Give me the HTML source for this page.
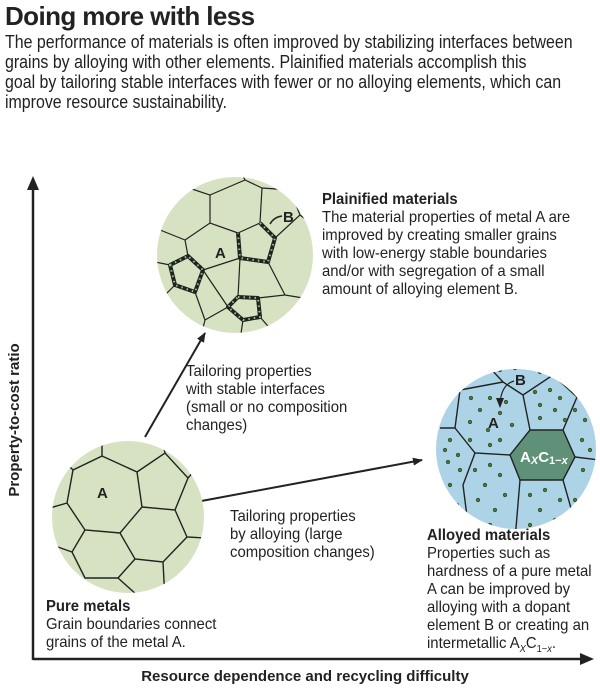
<!DOCTYPE html>
<html><head><meta charset="utf-8"><style>
body{margin:0;background:#fff;}
.w{position:relative;width:600px;height:689px;overflow:hidden;font-family:"Liberation Sans",sans-serif;color:#222;}
.t{position:absolute;white-space:nowrap;transform-origin:0 0;}
h1{position:absolute;left:5px;top:1px;margin:0;font-size:26px;font-weight:bold;letter-spacing:-0.6px;}
.intro{left:5px;top:32px;font-size:18px;line-height:20px;transform:scaleX(0.885);}
.lbl{font-size:16px;line-height:18px;transform:scaleX(0.93);}
b{font-weight:bold;}
</style></head><body><div class="w">
<h1>Doing more with less</h1>
<div class="t intro">The performance of materials is often improved by stabilizing interfaces between<br>grains by alloying with other elements. Plainified materials accomplish this<br>goal by tailoring stable interfaces with fewer or no alloying elements, which can<br>improve resource sustainability.</div>

<svg width="600" height="689" style="position:absolute;left:0;top:0">
<defs>
<clipPath id="c1"><circle cx="235" cy="255" r="78"/></clipPath>
<clipPath id="c2"><circle cx="128" cy="517" r="76"/></clipPath>
<clipPath id="c3"><circle cx="516" cy="449" r="80"/></clipPath>
<marker id="ar" markerWidth="10" markerHeight="8" refX="9" refY="4" orient="auto" markerUnits="userSpaceOnUse"><path d="M0,0 L10,4 L0,8 Z" fill="#222"/></marker>
</defs>
<line x1="33" y1="185" x2="33" y2="660" stroke="#222" stroke-width="2.5"/>
<path d="M27,190 L33,176 L39,190 Z" fill="#222"/>
<line x1="33" y1="659" x2="585" y2="659" stroke="#222" stroke-width="2.5"/>
<path d="M580,653 L594,659 L580,665 Z" fill="#222"/>
<line x1="145" y1="437" x2="205" y2="333" stroke="#222" stroke-width="2" marker-end="url(#ar)"/>
<line x1="196" y1="502" x2="422" y2="460" stroke="#222" stroke-width="2" marker-end="url(#ar)"/>

<circle cx="235" cy="255" r="78" fill="#d6e2c2"/>
<g clip-path="url(#c1)" stroke="#222" stroke-width="1.2" fill="none">
<path d="M238,233 L260,223 L275,238 L268,262 L240,258 Z"/>
<path d="M170,265 L188,256 L203,270 L195,292 L175,285 Z"/>
<path d="M238,297 L258,298 L260,317 L243,320 L228,307 Z"/>
<path d="M238,233 L210,223 L185,240 L188,256 M203,270 L240,258 L238,297 M203,270 L228,307 M195,292 L205,320 L228,307 M185,240 L160,230 M170,265 L155,262 M175,285 L160,300 M210,223 L210,195 L180,185 M210,195 L245,180 L262,188 L260,223 M262,188 L290,190 L300,215 L275,238 M300,215 L320,230 M268,262 L285,295 L258,298 M285,295 L315,300 M243,320 L240,340 M260,317 L280,340 M205,320 L200,340 M245,180 L240,170"/>
</g>
<g stroke="#222" stroke-width="4" fill="none" stroke-linejoin="round">
<path d="M260,223 L275,238 L268,262 L240,258 L238,233"/>
<path d="M170,265 L188,256 L203,270 L195,292 L175,285 Z"/>
<path d="M238,297 L258,298 L260,317 L243,320 L228,307 Z"/>
</g>
<g stroke="#8c8" stroke-width="2" stroke-dasharray="1.5 4" fill="none">
<path d="M260,223 L275,238 L268,262 L240,258 L238,233"/>
<path d="M170,265 L188,256 L203,270 L195,292 L175,285 Z"/>
<path d="M238,297 L258,298 L260,317 L243,320 L228,307 Z"/>
</g>
<text x="215" y="258" font-family="Liberation Sans,sans-serif" font-weight="bold" font-size="15" fill="#222">A</text>
<text x="283" y="222" font-family="Liberation Sans,sans-serif" font-weight="bold" font-size="15" fill="#222">B</text>
<path d="M282,216 Q274,217 270,224" stroke="#222" stroke-width="1.5" fill="none"/>

<circle cx="128" cy="517" r="76" fill="#d6e2c2"/>
<g clip-path="url(#c2)" stroke="#222" stroke-width="1.4" fill="none">
<path d="M102,440 L102,456 L73,470 L67,503 L50,508 M67,503 L85,530 L120,533 L142,507 L137,472 L102,456 M73,470 L68,465 M137,472 L165,453 L188,478 L175,510 L142,507 M165,453 L162,440 M188,478 L195,470 M175,510 L187,537 L205,538 M187,537 L163,562 L135,559 L120,533 M135,559 L118,578 L85,578 L72,552 L85,530 M72,552 L55,546 M163,562 L165,600 M118,578 L137,595"/>
</g>
<text x="97" y="498" font-family="Liberation Sans,sans-serif" font-weight="bold" font-size="15" fill="#222">A</text>

<circle cx="516" cy="449" r="80" fill="#add3e6"/>
<g clip-path="url(#c3)">
<path d="M530,430 L563,430 L575,457 L563,480 L520,480 L510,455 Z" fill="#5e9178"/>
<g stroke="#222" stroke-width="1.4" fill="none">
<path d="M530,430 L563,430 L575,457 L563,480 L520,480 L510,455 Z"/>
<path d="M490,368 L503,382 L460,390 L455,428 L440,428 M503,382 L523,395 L553,375 L560,365 M523,395 L530,430 M563,430 L577,397 L553,375 M577,397 L600,395 M575,457 L600,460 M455,428 L475,453 L510,455 M475,453 L463,485 L470,540 M520,480 L515,540 M563,480 L580,540 M460,390 L440,380"/>
</g>
<g fill="#4d7a3a" stroke="#2a3a20" stroke-width="0.6">
<circle cx="500" cy="370" r="1.8"/><circle cx="507" cy="367" r="1.8"/><circle cx="515" cy="368" r="1.8"/><circle cx="531" cy="368" r="1.8"/><circle cx="540" cy="372" r="1.8"/>
<circle cx="471" cy="398" r="1.8"/><circle cx="490" cy="398" r="1.8"/><circle cx="506" cy="402" r="1.8"/><circle cx="480" cy="410" r="1.8"/><circle cx="500" cy="413" r="1.8"/><circle cx="470" cy="422" r="1.8"/><circle cx="488" cy="430" r="1.8"/><circle cx="500" cy="440" r="1.8"/><circle cx="470" cy="440" r="1.8"/><circle cx="490" cy="445" r="1.8"/><circle cx="512" cy="425" r="1.8"/>
<circle cx="535" cy="392" r="1.8"/><circle cx="550" cy="390" r="1.8"/><circle cx="560" cy="398" r="1.8"/><circle cx="540" cy="405" r="1.8"/><circle cx="555" cy="410" r="1.8"/><circle cx="540" cy="418" r="1.8"/><circle cx="565" cy="420" r="1.8"/><circle cx="575" cy="410" r="1.8"/>
<circle cx="585" cy="420" r="1.8"/><circle cx="582" cy="440" r="1.8"/><circle cx="590" cy="450" r="1.8"/><circle cx="583" cy="470" r="1.8"/><circle cx="590" cy="485" r="1.8"/>
<circle cx="450" cy="440" r="1.8"/><circle cx="458" cy="455" r="1.8"/><circle cx="448" cy="462" r="1.8"/><circle cx="460" cy="470" r="1.8"/><circle cx="450" cy="485" r="1.8"/><circle cx="445" cy="450" r="1.8"/>
<circle cx="475" cy="470" r="1.8"/><circle cx="490" cy="465" r="1.8"/><circle cx="500" cy="475" r="1.8"/><circle cx="485" cy="485" r="1.8"/><circle cx="505" cy="495" r="1.8"/><circle cx="478" cy="500" r="1.8"/><circle cx="495" cy="510" r="1.8"/><circle cx="490" cy="525" r="1.8"/>
<circle cx="530" cy="495" r="1.8"/><circle cx="545" cy="490" r="1.8"/><circle cx="560" cy="500" r="1.8"/><circle cx="540" cy="510" r="1.8"/><circle cx="555" cy="520" r="1.8"/><circle cx="575" cy="500" r="1.8"/><circle cx="530" cy="525" r="1.8"/><circle cx="457" cy="505" r="1.8"/>
</g>
</g>
<text x="488" y="428" font-family="Liberation Sans,sans-serif" font-weight="bold" font-size="15" fill="#222">A</text>
<text x="515" y="385" font-family="Liberation Sans,sans-serif" font-weight="bold" font-size="15" fill="#222">B</text>
<path d="M514,381 Q500,385 500,407" stroke="#222" stroke-width="1.2" fill="none" marker-end="url(#ar)"/>
<text x="520" y="462" font-family="Liberation Sans,sans-serif" font-weight="bold" font-size="15" fill="#fff">A<tspan font-size="11" font-style="italic" dy="2">X</tspan><tspan dy="-2">C</tspan><tspan font-size="11" dy="2">1−<tspan font-style="italic">x</tspan></tspan></text>

<text transform="translate(19,420) rotate(-90)" text-anchor="middle" font-family="Liberation Sans,sans-serif" font-weight="bold" font-size="15" fill="#222">Property-to-cost ratio</text>
<text x="305" y="681" text-anchor="middle" font-family="Liberation Sans,sans-serif" font-weight="bold" font-size="15" fill="#222">Resource dependence and recycling difficulty</text>
</svg>

<div class="t lbl" style="left:322px;top:191px"><b>Plainified materials</b><br>The material properties of metal A are<br>improved by creating smaller grains<br>with low-energy stable boundaries<br>and/or with segregation of a small<br>amount of alloying element B.</div>
<div class="t lbl" style="left:186px;top:363px">Tailoring properties<br>with stable interfaces<br>(small or no composition<br>changes)</div>
<div class="t lbl" style="left:230px;top:508px">Tailoring properties<br>by alloying (large<br>composition changes)</div>
<div class="t lbl" style="left:46px;top:598px"><b>Pure metals</b><br>Grain boundaries connect<br>grains of the metal A.</div>
<div class="t lbl" style="left:427px;top:527px"><b>Alloyed materials</b><br>Properties such as<br>hardness of a pure metal<br>A can be improved by<br>alloying with a dopant<br>element B or creating an<br>intermetallic A<sub style="font-size:10px;font-style:italic">X</sub>C<sub style="font-size:10px">1−<i>x</i></sub>.</div>
</div></body></html>
